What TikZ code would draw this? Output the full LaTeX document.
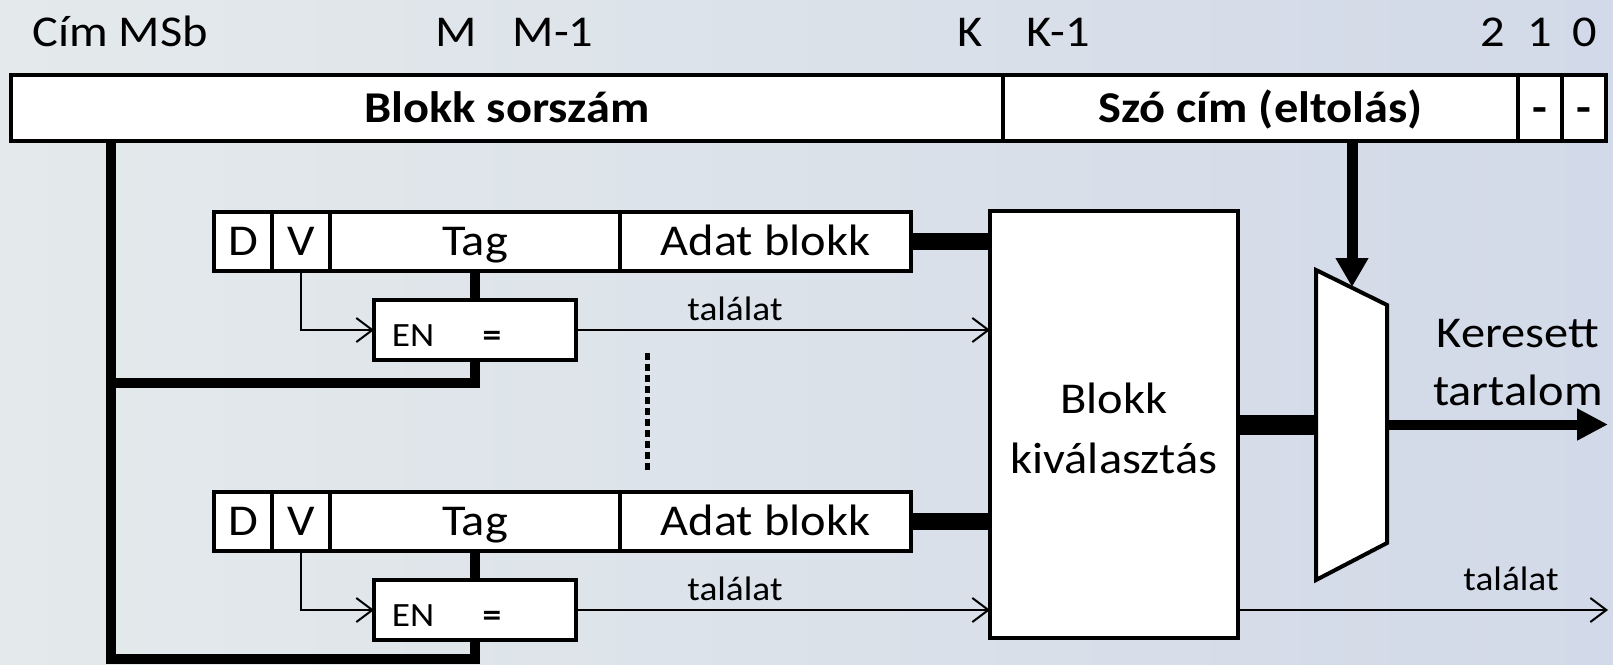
\documentclass[tikz,border=0pt]{standalone}
\usepackage{fontspec}
\setmainfont{Carlito}[FakeStretch=1.1]
\usetikzlibrary{arrows.meta}
\definecolor{bgl}{RGB}{228,234,235}
\definecolor{bgm}{RGB}{224,226,236}
\definecolor{bgr}{RGB}{210,217,232}
\begin{document}
\begin{tikzpicture}[x=1pt,y=-1pt,
  every node/.style={inner sep=0pt,outer sep=0pt},
  bigfont/.style={font=\fontsize{44}{52}\selectfont},
  smallfont/.style={font=\fontsize{34}{40}\selectfont},
  cell/.style={draw=black,fill=white,line width=4pt,minimum height=59pt,
    text height=28.3pt,text depth=0pt,bigfont},
  addrcell/.style={cell,minimum height=66pt,font=\fontsize{44}{52}\selectfont\bfseries},
  cmpbox/.style={draw=black,fill=white,line width=4pt,minimum width=202pt,minimum height=60pt},
  label/.style={anchor=base},
  bus/.style={line width=10pt,line join=miter},
  wide/.style={line width=17pt},
  thinarrow/.style={line width=2pt,-{Straight Barb[length=16pt,width=24pt]}},
  bigarrow/.style={line width=11pt,-{Triangle[length=29pt,width=31pt]}},
  dotline/.style={line width=5pt,dash pattern=on 7pt off 4pt}]
\useasboundingbox (0,0) rectangle (1613,664);
\shade[left color=bgl,middle color=bgm,right color=bgr] (0,0) rectangle (1613,664);

% bit positions above the address
\node[label,bigfont] (lmsb) at (120,46) {Cím MSb};
\node[label,bigfont] (lm)   at (456,46) {M};
\node[label,bigfont] (lm1)  at (553,46) {M-1};
\node[label,bigfont] (lk)   at (970,46) {K};
\node[label,bigfont] (lk1)  at (1058,46) {K-1};
\node[label,bigfont] (l2)   at (1493,46) {2};
\node[label,bigfont] (l1)   at (1540,46) {1};
\node[label,bigfont] (l0)   at (1585,46) {0};

% address fields
\node[addrcell,minimum width=992pt] (bs) at (507,108) {Blokk sorszám};
\node[addrcell,minimum width=515pt] (sz) at (1260.5,108) {Szó cím (eltolás)};
\node[addrcell,minimum width=44pt]  (b1) at (1540,108) {-};
\node[addrcell,minimum width=44pt]  (b0) at (1584,108) {-};

% block selection unit
\node[draw=black,fill=white,line width=4pt,minimum width=248pt,minimum height=427pt] (BK) at (1114,424.5) {};
\node[label,bigfont] (bk1) at (1114,413) {Blokk};
\node[label,bigfont] (bk2) at (1114,473) {kiválasztás};

% word multiplexer
\coordinate (m1) at (1316,270);
\coordinate (m2) at (1387,305);
\coordinate (m3) at (1387,543);
\coordinate (m4) at (1316,580);
\coordinate (mtop) at (1352,287);
\coordinate (outend) at (1608,424.5);
\coordinate (hitend) at (1608,0);

% cache lines with their tag comparators
\foreach \i/\o in {1/0,2/280}{
  \node[cell,minimum width=58pt]  (D\i) at (243,{241.5+\o}) {D};
  \node[cell,minimum width=58pt]  (V\i) at (301,{241.5+\o}) {V};
  \node[cell,minimum width=290pt] (T\i) at (475,{241.5+\o}) {Tag};
  \node[cell,minimum width=291pt] (A\i) at (765.5,{241.5+\o}) {Adat blokk};
  \node[cmpbox] (C\i) at (475,{330+\o}) {};
  \node[label,smallfont] (en\i) at (413,{346+\o}) {EN};
  \node[label,smallfont] (eq\i) at (492,{346+\o}) {\bfseries =};
  \draw[bus] (T\i.south) -- (C\i.north);
  \draw[thinarrow] (V\i.south) |- (C\i.west);
  \draw[thinarrow] (C\i.east) -- (C\i.east -| BK.west);
  \node[label,smallfont] (hit\i) at (735,{320+\o}) {találat};
  \draw[wide] (A\i.east) -- (A\i.east -| BK.west);
}

% address bus to the comparators
\coordinate (tap1) at (111,383);
\coordinate (busend) at (111,659);
\draw[bus] ([xshift=100pt]bs.south west) -- (busend) -| (C2.south);
\draw[bus] (tap1) -| (C1.south);

% further cache lines
\coordinate (dots1) at (647,353);
\coordinate (dots2) at (647,470);
\draw[dotline] (dots1) -- (dots2);

% word selection
\draw[line width=4pt,fill=white,line join=miter] (m1) -- (m2) -- (m3) -- (m4) -- cycle;
\draw[line width=20pt] (BK.east) -- (BK.east -| m1);
\draw[bigarrow] (sz.south -| mtop) -- (mtop);
\draw[line width=10pt,-{Triangle[length=31pt,width=30pt]}] (BK.east -| m2) -- (outend);
\node[label,bigfont] (ker) at (1518,347) {Keresett};
\node[label,bigfont] (tart) at (1518,405) {tartalom};

% hit output
\draw[thinarrow] (C2.east -| BK.east) -- (C2.east -| hitend);
\node[label,smallfont] (hit3) at (1511,590) {találat};
\end{tikzpicture}
\end{document}
